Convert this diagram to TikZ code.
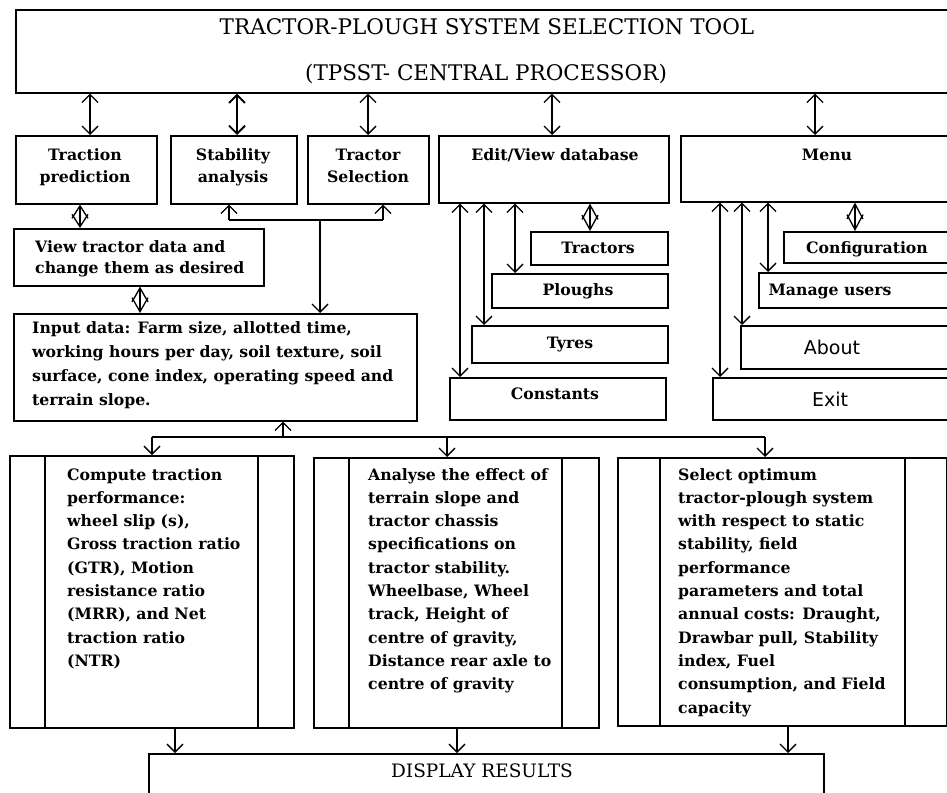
\documentclass[tikz,border=0pt]{standalone}
\usepackage{fontspec}
\setmainfont{DejaVu Serif}
\newfontfamily\sansfam{DejaVu Sans}
\usetikzlibrary{arrows.meta}
% box from (x1,y1) to (x2,y2), y measured downwards
\newcommand\mkbox[5]{\node[box,minimum width={#4-#2},minimum height={#5-#3}] (#1) at (#2,#3) {};}
\newcommand\stackl[1]{\begin{tabular}[t]{@{}l@{}}#1\end{tabular}}
\newcommand\stackc[1]{\begin{tabular}[t]{@{}c@{}}#1\end{tabular}}
\begin{document}
\begin{tikzpicture}[x=1pt,y=-1pt,
  >={Straight Barb[length=8pt,width=16pt]},
  box/.style={draw,line width=1.6pt,inner sep=0pt,anchor=north west},
  conn/.style={line width=1.3pt},
  dia/.style={conn,{Straight Barb[length=#1,width=16pt]}-{Straight Barb[length=#1,width=16pt]}},
  lbl/.style={font=\bfseries\fontsize{15.7}{#1}\selectfont,inner sep=0pt},
  lbl/.default=22,
  ttl/.style={font=\fontsize{#1}{24}\selectfont,inner sep=0pt,anchor=base},
  sanslbl/.style={font=\sansfam\fontsize{19}{22}\selectfont,inner sep=0pt}]
\path[use as bounding box,fill=white] (0,0) rectangle (947,792);
\clip (0,0) rectangle (947,792);

% ---- boxes
\mkbox{tpsst}{15}{9}{962}{92}
\mkbox{trac}{15}{135}{156}{203}
\mkbox{stab}{170}{135}{296}{203}
\mkbox{tsel}{307}{135}{428}{203}
\mkbox{edit}{438}{135}{668}{202}
\mkbox{menu}{680}{135}{962}{201}
\mkbox{view}{13}{228}{263}{285}
\mkbox{input}{13}{313}{416}{420}
\mkbox{tractors}{530}{231}{667}{264}
\mkbox{ploughs}{491}{273}{667}{307}
\mkbox{tyres}{471}{325}{667}{362}
\mkbox{consts}{449}{377}{665}{419}
\mkbox{config}{783}{231}{962}{262}
\mkbox{manage}{758}{272}{962}{307}
\mkbox{about}{740}{325}{962}{368}
\mkbox{exitbox}{712}{377}{962}{419}
\mkbox{comp}{9}{455}{293}{727}
\mkbox{anal}{313}{457}{598}{727}
\mkbox{sel}{617}{457}{946}{725}
\mkbox{disp}{148}{753}{823}{800}

% side bars of the process boxes
\draw[line width=1.6pt] (comp.north -| 45,0) -- (comp.south -| 45,0)
  (comp.north -| 258,0) -- (comp.south -| 258,0)
  (anal.north -| 349,0) -- (anal.south -| 349,0)
  (anal.north -| 562,0) -- (anal.south -| 562,0)
  (sel.north -| 660,0) -- (sel.south -| 660,0)
  (sel.north -| 905,0) -- (sel.south -| 905,0);

% ---- texts
\node[ttl=21.5] (t1) at (487,35) {TRACTOR-PLOUGH SYSTEM SELECTION TOOL};
\node[ttl=21.5] (t2) at (486,80) {(TPSST- CENTRAL PROCESSOR)};
\node[lbl,anchor=base] (tracT) at (85,160) {\stackc{Traction\\prediction}};
\node[lbl,anchor=base] (stabT) at (233,160) {\stackc{Stability\\analysis}};
\node[lbl,anchor=base] (tselT) at (368,160) {\stackc{Tractor\\Selection}};
\node[lbl,anchor=base] (editT) at (555,160) {Edit/View database};
\node[lbl,anchor=base] (menuT) at (827,160) {Menu};
\node[lbl,anchor=base] (tractorsT) at (598,253) {Tractors};
\node[lbl,anchor=base] (ploughsT) at (578,295) {Ploughs};
\node[lbl,anchor=base] (tyresT) at (570,348) {Tyres};
\node[lbl,anchor=base] (constsT) at (555,399) {Constants};
\node[lbl,anchor=base] (configT) at (867,253) {Configuration};
\node[lbl,anchor=base] (manageT) at (830,295) {Manage users};
\node[sanslbl,anchor=base] (aboutT) at (832,354) {About};
\node[sanslbl,anchor=base] (exitT) at (830,406) {Exit};
\node[lbl=21.5,anchor=base west] (viewT) at (35,252)
  {\stackl{View tractor data and\\change them as desired}};
\node[lbl=24.3,anchor=base west] (inputT) at (32,333)
  {\stackl{Input data: Farm size, allotted time,\\working hours per day, soil texture, soil\\surface, cone index, operating speed and\\terrain slope.}};
\node[lbl=23.3,anchor=base west] (compT) at (67,480)
  {\stackl{Compute traction\\performance:\\wheel slip (s),\\Gross traction ratio\\(GTR), Motion\\resistance ratio\\(MRR), and Net\\traction ratio\\(NTR)}};
\node[lbl=23.3,anchor=base west] (analT) at (368,480)
  {\stackl{Analyse the effect of\\terrain slope and\\tractor chassis\\specifications on\\tractor stability.\\Wheelbase, Wheel\\track, Height of\\centre of gravity,\\Distance rear axle to\\centre of gravity}};
\node[lbl=23.3,anchor=base west] (selT) at (678,480)
  {\stackl{Select optimum\\tractor-plough system\\with respect to static\\stability, field\\performance\\parameters and total\\annual costs: Draught,\\Drawbar pull, Stability\\index, Fuel\\consumption, and Field\\capacity}};
\node[ttl=18.5] (dispT) at (482,777) {DISPLAY RESULTS};

% ---- connectors: central processor to modules
\draw[conn,<->] (tpsst.south -| 90,0) -- (trac.north -| 90,0);
\draw[conn,<->,line width=1.9pt] (tpsst.south -| 237,0) -- (stab.north -| 237,0);
\draw[conn,<->] (tpsst.south -| 368,0) -- (tsel.north -| 368,0);
\draw[conn,<->] (tpsst.south -| 552,0) -- (edit.north -| 552,0);
\draw[conn,<->] (tpsst.south -| 815,0) -- (menu.north -| 815,0);

% traction prediction chain
\draw[dia=12.5pt] (trac.south -| 80,0) -- (view.north -| 80,0);
\draw[dia=14pt] (view.south -| 140,0) -- (input.north -| 140,0);

% stability / selection branch
\coordinate (brL) at (229,220);
\coordinate (brR) at (383,220);
\coordinate (brM) at (320,220);
\draw[conn] (brL) -- (brR);
\draw[conn,->] (brL) -- (stab.south -| brL);
\draw[conn,->] (brR) -- (tsel.south -| brR);
\draw[conn,->] (brM) -- (input.north -| brM);

% database
\draw[conn,<->] (edit.south -| 460,0) -- (consts.north -| 460,0);
\draw[conn,<->] (edit.south -| 484,0) -- (tyres.north -| 484,0);
\draw[conn,<->] (edit.south -| 515,0) -- (ploughs.north -| 515,0);
\draw[dia=14.5pt] (edit.south -| 590,0) -- (tractors.north -| 590,0);

% menu
\draw[conn,<->] (menu.south -| 720,0) -- (exitbox.north -| 720,0);
\draw[conn,<->] (menu.south -| 742,0) -- (about.north -| 742,0);
\draw[conn,<->] (menu.south -| 768,0) -- (manage.north -| 768,0);
\draw[dia=15pt] (menu.south -| 855,0) -- (config.north -| 855,0);

% input data to the three processes
\coordinate (busL) at (152,437);
\coordinate (busM) at (283,437);
\coordinate (busC) at (447,437);
\coordinate (busR) at (765,437);
\draw[conn] (busL) -- (busR);
\draw[conn,->] (busM) -- (input.south -| busM);
\draw[conn,->] (busL) -- (comp.north -| busL);
\draw[conn,->] (busC) -- (anal.north -| busC);
\draw[conn,->] (busR) -- (sel.north -| busR);

% processes to results
\draw[conn,->] (comp.south -| 175,0) -- (disp.north -| 175,0);
\draw[conn,->] (anal.south -| 457,0) -- (disp.north -| 457,0);
\draw[conn,->] (sel.south -| 788,0) -- (disp.north -| 788,0);
\end{tikzpicture}
\end{document}
